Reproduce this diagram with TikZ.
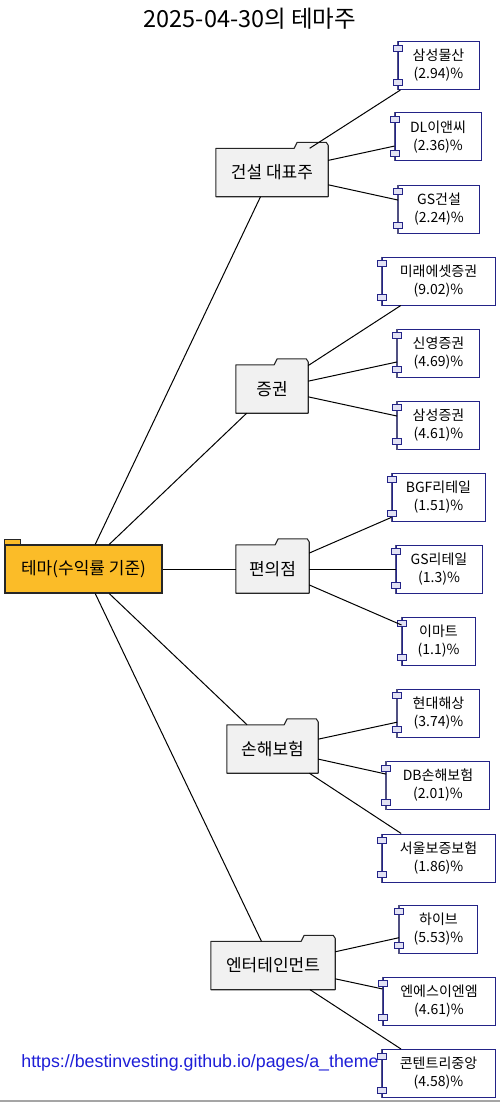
\documentclass[tikz,border=0pt]{standalone}
\usepackage{fontspec}
\setmainfont{Noto Sans CJK KR}
\newfontfamily\linkfont{Liberation Sans}
\usetikzlibrary{backgrounds}
\definecolor{FolderGray}{RGB}{241,241,241}
\definecolor{ThemeOrange}{RGB}{251,188,40}
\definecolor{LeafNavy}{RGB}{35,35,135}
\definecolor{LeafBar}{RGB}{80,80,130}
\definecolor{PortFill}{RGB}{226,226,244}
\definecolor{LinkBlue}{RGB}{30,30,215}
\definecolor{FootGray}{RGB}{165,165,165}

\begin{document}
\begin{tikzpicture}[x=1pt, y=-1pt,
	catfolder/.style={minimum height=48, inner sep=0, font=\fontsize{17}{20}\selectfont},
	folderline/.style={draw=black!85, line width=1.1pt, fill=FolderGray, line join=round},
	rootfolder/.style={draw=black!85, line width=1.1pt, fill=ThemeOrange, minimum width=157,
		minimum height=48, inner sep=0, font=\fontsize{17}{20}\selectfont},
	leaf/.style={draw=LeafNavy, line width=1pt, fill=white, minimum height=48, inner sep=0,
		align=center, font=\fontsize{14}{18}\selectfont},
	leafbar/.style={draw=LeafBar, line width=1.6pt},
	leafport/.style={draw=LeafNavy, line width=0.9pt, fill=PortFill},
	branch/.style={draw=black, line width=1pt}]
	\useasboundingbox (0,0) rectangle (500,1103);

	% titulo y pie
	\node[font=\fontsize{23.5}{26}\selectfont] (titulo) at (250,19) {2025-04-30의 테마주};
	\draw[FootGray, line width=1.2pt] (0,1101) -- (500,1101);
	\node[font=\linkfont\fontsize{17.8}{20}\selectfont, text=LinkBlue] (enlace) at (200,1063)
		{https://bestinvesting.github.io/pages/a\_theme};

	% raiz
	\node[rootfolder] (tema) at (83.5,569) {테마(수익률 기준)};
	\draw[draw=black!85, line width=1.1pt, fill=ThemeOrange] (tema.north west) rectangle ([xshift=16pt,yshift=5pt]tema.north west);

	% carpetas de sector
	\node[catfolder, minimum width=112] (geonseol) at (272,172.5) {건설 대표주};
	\node[catfolder, minimum width=72] (jeunggwon) at (272,389) {증권};
	\node[catfolder, minimum width=73] (pyeonuijeom) at (272.5,569) {편의점};
	\node[catfolder, minimum width=91] (sonhae) at (272.5,749) {손해보험};
	\node[catfolder, minimum width=124] (enter) at (273,965.5) {엔터테인먼트};
	\begin{scope}[on background layer]
		\foreach \f in {geonseol,jeunggwon,pyeonuijeom,sonhae,enter}
			\draw[folderline] (\f.south west) -- (\f.north west) -- ([xshift=-34pt]\f.north east)
				-- ([xshift=-31pt,yshift=6pt]\f.north east) -- ([xshift=-2pt,yshift=6pt]\f.north east)
				-- ([yshift=3pt]\f.north east) -- (\f.south east) -- cycle;
	\end{scope}

	% acciones
	\node[leaf, minimum width=81] (samsungct) at (438.5,65.5) {삼성물산\\(2.94)\%};
	\node[leaf, minimum width=86] (dlenc) at (438,136.7) {DL이앤씨\\(2.36)\%};
	\node[leaf, minimum width=81] (gsenc) at (439,209) {GS건설\\(2.24)\%};
	\node[leaf, minimum width=113] (mirae) at (438.5,281) {미래에셋증권\\(9.02)\%};
	\node[leaf, minimum width=82] (shinyoung) at (438.5,353) {신영증권\\(4.69)\%};
	\node[leaf, minimum width=82] (samsungsec) at (438.5,425) {삼성증권\\(4.61)\%};
	\node[leaf, minimum width=93] (bgf) at (438.5,497) {BGF리테일\\(1.51)\%};
	\node[leaf, minimum width=86] (gsretail) at (439,569) {GS리테일\\(1.3)\%};
	\node[leaf, minimum width=73] (emart) at (438.5,641) {이마트\\(1.1)\%};
	\node[leaf, minimum width=82] (hyundai) at (438.5,713.3) {현대해상\\(3.74)\%};
	\node[leaf, minimum width=103] (dbins) at (438,785.5) {DB손해보험\\(2.01)\%};
	\node[leaf, minimum width=113] (sgi) at (438.5,858) {서울보증보험\\(1.86)\%};
	\node[leaf, minimum width=78] (hybe) at (438.5,929) {하이브\\(5.53)\%};
	\node[leaf, minimum width=112] (nsenm) at (439,1001) {엔에스이엔엠\\(4.61)\%};
	\node[leaf, minimum width=113] (contentree) at (438.5,1073.5) {콘텐트리중앙\\(4.58)\%};
	\foreach \n in {samsungct,dlenc,gsenc,mirae,shinyoung,samsungsec,bgf,gsretail,emart,
			hyundai,dbins,sgi,hybe,nsenm,contentree} {
		\draw[leafbar] (\n.north west) -- (\n.south west);
		\draw[leafport] ([xshift=-4.5pt,yshift=-4pt]\n.north west) rectangle ++(9,6);
		\draw[leafport] ([xshift=-4.5pt,yshift=11pt]\n.south west) rectangle ++(9,6);
	}

	% ramas
	\foreach \a/\b in {tema/geonseol, tema/jeunggwon, tema/pyeonuijeom, tema/sonhae, tema/enter,
			geonseol/samsungct, geonseol/dlenc, geonseol/gsenc,
			jeunggwon/mirae, jeunggwon/shinyoung, jeunggwon/samsungsec,
			pyeonuijeom/bgf, pyeonuijeom/gsretail, pyeonuijeom/emart,
			sonhae/hyundai, sonhae/dbins, sonhae/sgi,
			enter/hybe, enter/nsenm, enter/contentree}
		\draw[branch] (\a) -- (\b);
\end{tikzpicture}
\end{document}
